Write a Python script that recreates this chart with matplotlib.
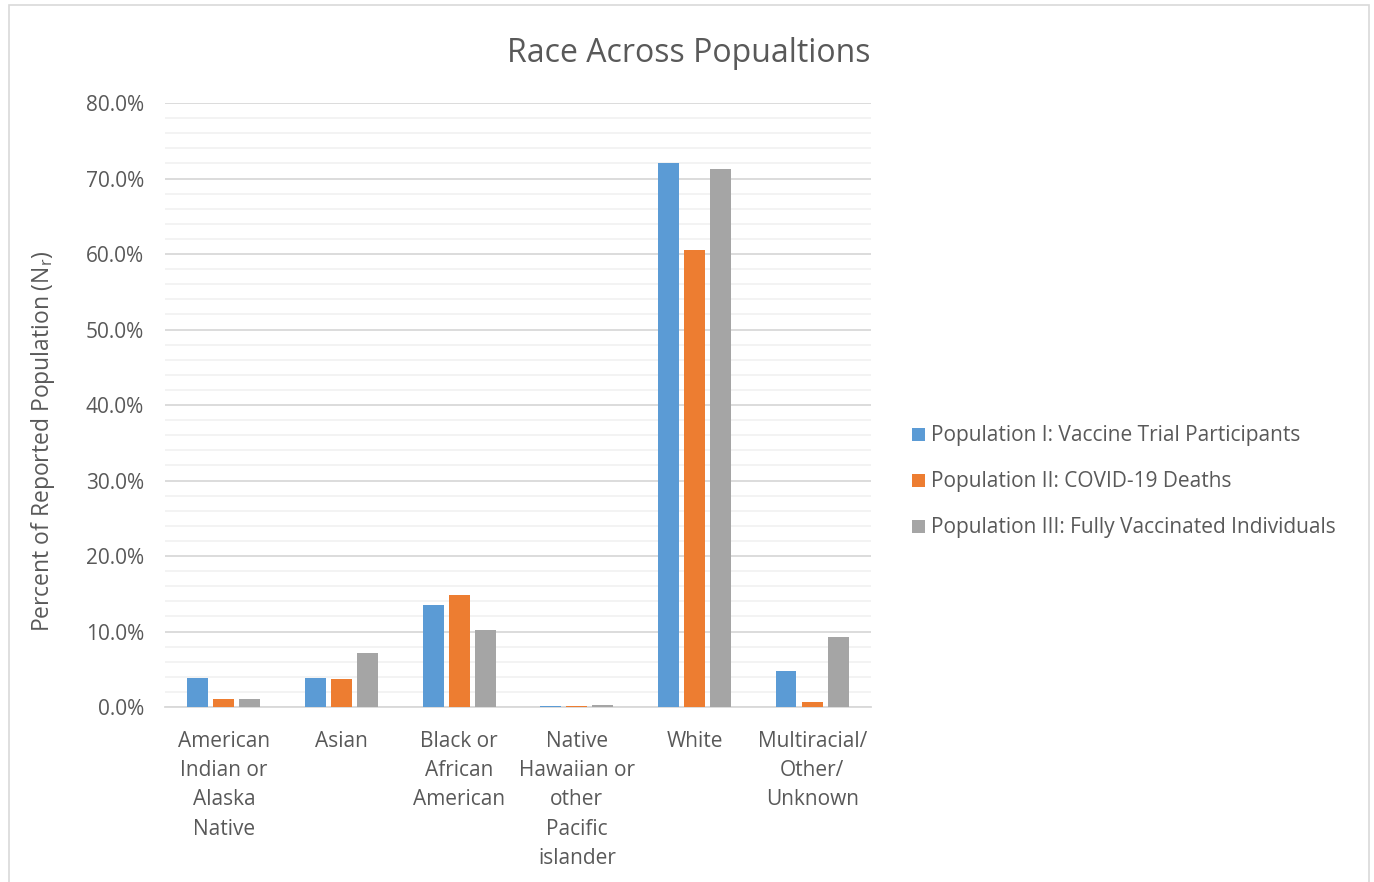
import matplotlib
matplotlib.use('Agg')
import matplotlib.pyplot as plt
import numpy as np
from matplotlib.patches import Rectangle
from matplotlib.ticker import MultipleLocator, FuncFormatter

# data (percent)
categories = ['American\nIndian or\nAlaska\nNative', 'Asian', 'Black or\nAfrican\nAmerican',
              'Native\nHawaiian or\nother\nPacific\nislander', 'White', 'Multiracial/\nOther/\nUnknown']
trialParticipants = [3.9, 3.9, 13.5, 0.2, 72.1, 4.8]
covidDeaths = [1.0, 3.7, 14.9, 0.2, 60.5, 0.7]
fullyVaccinated = [1.0, 7.2, 10.2, 0.3, 71.3, 9.3]
seriesNames = ['Population I: Vaccine Trial Participants',
               'Population II: COVID-19 Deaths',
               'Population III: Fully Vaccinated Individuals']
colors = ['#5B9BD5', '#ED7D31', '#A5A5A5']

plt.rcParams['font.family'] = ['Open Sans', 'DejaVu Sans']
plt.rcParams['mathtext.default'] = 'regular'
textColor = '#595959'

fig = plt.figure(figsize=(13.74, 8.82), dpi=100)
ax = fig.add_axes([0.1201, 0.1984, 0.5138, 0.6848])

# chart border, Excel style
fig.patches.append(Rectangle((9/1374, -0.05), 1360/1374, 1.05 - 5/882, transform=fig.transFigure,
                             fill=False, edgecolor='#d9d9d9', linewidth=1.2))

ind = np.arange(len(categories))
width = 0.176
step = 0.221
allSeries = [trialParticipants, covidDeaths, fullyVaccinated]
for i in range(3):
    ax.bar(ind + (i - 1)*step, allSeries[i], width, color=colors[i], label=seriesNames[i], zorder=3)

ax.set_xlim(-0.5, len(categories) - 0.5)
ax.set_ylim(0, 80)
ax.yaxis.set_major_locator(MultipleLocator(10))
ax.yaxis.set_minor_locator(MultipleLocator(2))
ax.yaxis.set_major_formatter(FuncFormatter(lambda v, p: '%.1f%%' % v))
ax.grid(axis='y', which='major', color='#d9d9d9', linewidth=1.3, zorder=0)
ax.grid(axis='y', which='minor', color='#f2f2f2', linewidth=1.3, zorder=0)
ax.set_axisbelow(True)

ax.set_xticks(ind)
ax.set_xticklabels(categories, linespacing=1.52)
ax.tick_params(axis='both', which='both', length=0, labelsize=15, labelcolor=textColor)
ax.tick_params(axis='y', pad=15)
ax.tick_params(axis='x', pad=17)

for s in ['top', 'right', 'left']:
    ax.spines[s].set_visible(False)
ax.spines['bottom'].set_color('#d9d9d9')
ax.spines['bottom'].set_linewidth(1.3)

fig.text(43/1374, 1 - 441/882, 'Percent of Reported Population (N$_r$)', fontsize=16.5,
         color=textColor, rotation=90, ha='center', va='center')
fig.text(0.5015, 1 - 53/882, 'Race Across Popualtions', fontsize=23, color=textColor,
         ha='center', va='center')

fig.legend(loc='center left', bbox_to_anchor=(0.658, 1 - 482/882), frameon=False, fontsize=15,
           handlelength=0.6, handleheight=0.6, handletextpad=0.3, labelspacing=1.2,
           labelcolor=textColor, borderaxespad=0)

fig.savefig('out.png', dpi=100, facecolor='white')
